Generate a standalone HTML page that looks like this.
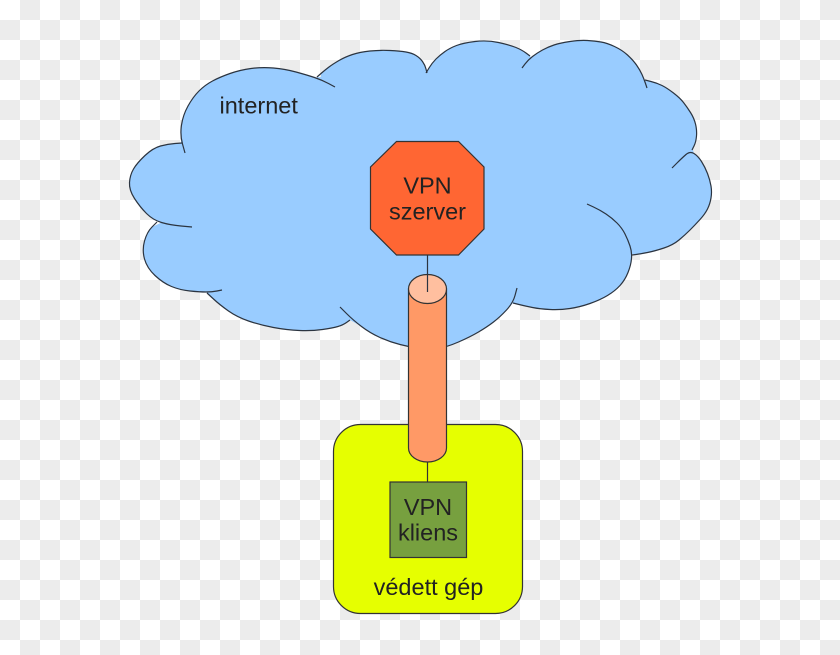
<!DOCTYPE html>
<html>
<head>
<meta charset="utf-8">
<style>
  html, body { margin: 0; padding: 0; }
  body { width: 840px; height: 655px; overflow: hidden; }
  svg { display: block; }
  text { font-family: "Liberation Sans", Arial, sans-serif; font-size: 23.5px; fill: #222; }
</style>
</head>
<body>
<svg width="840" height="655" viewBox="0 0 840 655" xmlns="http://www.w3.org/2000/svg">
  <defs>
    <pattern id="chk" x="0" y="0" width="40" height="40" patternUnits="userSpaceOnUse">
      <rect x="0" y="0" width="40" height="40" fill="#ffffff"/>
      <rect x="20" y="0" width="20" height="20" fill="#ececec"/>
      <rect x="0" y="20" width="20" height="20" fill="#ececec"/>
    </pattern>
  </defs>
  <rect x="0" y="0" width="840" height="655" fill="url(#chk)"/>

  <!-- cloud fill -->
  <path fill="#99ccff" stroke="none" d="
    M161.5,222.5 Q153,220 146.5,213.5 Q140,207 134.5,198.5 Q129,190 129.5,182.5 Q130,175 133.5,169 Q137,163 145,155.5 Q153,148 160.5,146 Q168,144 175,143.5 L181,143
    L181.5,125 Q183,115 188,106 Q193,97 199,91 Q205,85 212.5,81 Q220,77 230,73.5 Q240,70 251,68.5 Q262,67 273.5,68 Q285,69 296,72 Q307,75 314.5,77.5 L321,77
    L321,73.5 Q325,70 329,67 Q333,64 339,60.5 Q345,57 352.5,54.5 Q360,52 370,51 Q380,50 390,50.5 Q400,51 406,52 Q412,53 416,55.5 Q420,58 422.5,61.5 Q425,65 426,69 L427,72
    L429,68 Q432,63 436,59 Q440,55 445,51.5 Q450,48 456.5,45.5 Q463,43 475,41.5 Q487,40 498.5,42.5 Q510,45 516,47.5 Q522,50 526,53 L531,57
    L532.5,56.5 Q537,53 542.5,50 Q548,47 554,45 Q560,43 570,41.5 Q580,40 587.5,40.5 Q595,41 601,42 Q607,43 614.5,46.5 Q622,50 627.5,55 Q633,60 636.5,65 Q640,70 642,74.5 Q644,79 645,81
    L651,81.5 Q657,83 662,85.5 Q667,88 673.5,93 Q680,98 683.5,102.5 Q687,107 690.5,112.5 Q694,118 695.5,124 Q697,130 696.5,136 Q696,142 694,146 L693,150
    L694,153.5 Q698,156 701.5,161.5 Q705,167 707.5,173.5 Q710,180 711,186 Q712,192 711,198 Q710,204 707.5,209 Q705,214 700,219.5 Q695,225 690,230 Q685,235 679,240 Q673,245 664,248 Q655,251 647.5,252.5 Q640,254 636,254.5 L632,254
    L631.5,258.5 Q631,265 628,272.5 Q625,280 620,285.5 Q615,291 607.5,295.5 Q600,300 590,303.5 Q580,307 570,308.5 Q560,310 550,309.5 Q540,309 532.5,307.5 Q525,306 519,304.5 L513,303
    L506.5,310 Q500,317 493.5,322 Q487,327 478.5,332 Q470,337 458.5,342 Q447,347 437.5,348.5 Q428,350 419,348.5 Q410,347 400,344.5 Q390,342 380,337.5 Q370,333 361.5,326.5 L350,320
    L346.5,322.5 Q343,325 338,326.5 Q333,328 322.5,329.5 Q312,331 299.5,330.5 Q287,330 273.5,327.5 Q260,325 248.5,321 Q237,317 228.5,311 Q220,305 213.5,299 L207,293
    L206,292 Q200,292 190,291 Q180,290 171.5,286.5 Q163,283 155,275.5 Q147,268 144.5,259 Q142,250 144.5,241 Q147,232 152,227 Z"/>

  <!-- cloud outline lobes -->
  <g fill="none" stroke="#2b3440" stroke-width="1.2">
    <path d="M192,227 L181,226 Q170,225 161.5,222.5 Q153,220 146.5,213.5 Q140,207 134.5,198.5 Q129,190 129.5,182.5 Q130,175 133.5,169 Q137,163 145,155.5 Q153,148 160.5,146 Q168,144 175,143.5 L182,143"/>
    <path d="M185,153 L182.5,144 Q180,135 181.5,125 Q183,115 188,106 Q193,97 199,91 Q205,85 212.5,81 Q220,77 230,73.5 Q240,70 251,68.5 Q262,67 273.5,68 Q285,69 296,72 Q307,75 314.5,77.5 Q322,80 328.5,83.5 L335,87"/>
    <path d="M317,77 L321,73.5 Q325,70 329,67 Q333,64 339,60.5 Q345,57 352.5,54.5 Q360,52 370,51 Q380,50 390,50.5 Q400,51 406,52 Q412,53 416,55.5 Q420,58 422.5,61.5 Q425,65 426,69 L427,73"/>
    <path d="M426,73 L429,68 Q432,63 436,59 Q440,55 445,51.5 Q450,48 456.5,45.5 Q463,43 475,41.5 Q487,40 498.5,42.5 Q510,45 516,47.5 Q522,50 526,53 L530,56"/>
    <path d="M522,68 L525,64 Q528,60 532.5,56.5 Q537,53 542.5,50 Q548,47 554,45 Q560,43 570,41.5 Q580,40 587.5,40.5 Q595,41 601,42 Q607,43 614.5,46.5 Q622,50 627.5,55 Q633,60 636.5,65 Q640,70 642,74.5 Q644,79 645.5,83.5 L647,88"/>
    <path d="M645,80 L651,81.5 Q657,83 662,85.5 Q667,88 673.5,93 Q680,98 683.5,102.5 Q687,107 690.5,112.5 Q694,118 695.5,124 Q697,130 696.5,136 Q696,142 694,146 L692,150"/>
    <path d="M672,168 L677,163 Q682,158 686,154.5 Q690,151 694,153.5 Q698,156 701.5,161.5 Q705,167 707.5,173.5 Q710,180 711,186 Q712,192 711,198 Q710,204 707.5,209 Q705,214 700,219.5 Q695,225 690,230 Q685,235 679,240 Q673,245 664,248 Q655,251 647.5,252.5 Q640,254 636,254.5 L632,255"/>
    <path d="M587,204 L593.5,207 Q600,210 606,214 Q612,218 617,223 Q622,228 625,234 Q628,240 630,246 Q632,252 631.5,258.5 Q631,265 628,272.5 Q625,280 620,285.5 Q615,291 607.5,295.5 Q600,300 590,303.5 Q580,307 570,308.5 Q560,310 550,309.5 Q540,309 532.5,307.5 Q525,306 519,304.5 L513,303"/>
    <path d="M517,288 L515,295.5 Q513,303 506.5,310 Q500,317 493.5,322 Q487,327 478.5,332 Q470,337 458.5,342 Q447,347 437.5,348.5 Q428,350 419,348.5 Q410,347 400,344.5 Q390,342 380,337.5 Q370,333 361.5,326.5 Q353,320 346.5,313.5 L340,307"/>
    <path d="M207,293 L213.5,299 Q220,305 228.5,311 Q237,317 248.5,321 Q260,325 273.5,327.5 Q287,330 299.5,330.5 Q312,331 322.5,329.5 Q333,328 338,326.5 Q343,325 346.5,322.5 L350,320"/>
    <path d="M157,222 L152,227 Q147,232 144.5,241 Q142,250 144.5,259 Q147,268 155,275.5 Q163,283 171.5,286.5 Q180,290 190,291 Q200,292 206,292 Q212,292 217,291 L222,290"/>
  </g>

  <text x="219.5" y="113.5">internet</text>

  <!-- VPN szerver octagon -->
  <polygon points="396.5,141.5 458.5,141.5 484,167 484,229 458.5,255 396.5,255 370.5,229 370.5,167" fill="#ff6633" stroke="#333" stroke-width="1.2"/>
  <text x="427.5" y="193.5" text-anchor="middle">VPN</text>
  <text x="427.5" y="219.5" text-anchor="middle">szerver</text>

  <!-- protected machine -->
  <rect x="333.5" y="424.5" width="189" height="189" rx="27" ry="27" fill="#e6ff00" stroke="#333" stroke-width="1.2"/>

  <!-- tunnel cylinder -->
  <path d="M408.5,289 L408.5,448 A19,14 0 0 0 446.5,448 L446.5,289 Z" fill="#ff9966" stroke="#333" stroke-width="1.2"/>
  <ellipse cx="427.5" cy="289" rx="19" ry="14.5" fill="#ffbf9f" stroke="#333" stroke-width="1.2"/>

  <!-- connectors -->
  <line x1="427.5" y1="255" x2="427.5" y2="292" stroke="#2b3440" stroke-width="1.2"/>
  <line x1="427.5" y1="462" x2="427.5" y2="482" stroke="#333" stroke-width="1.2"/>

  <!-- VPN kliens -->
  <rect x="390" y="482" width="76.5" height="75.5" fill="#77a03f" stroke="#333" stroke-width="1.2"/>
  <text x="428" y="515" text-anchor="middle">VPN</text>
  <text x="428" y="540.5" text-anchor="middle">kliens</text>

  <text x="428.5" y="595" text-anchor="middle">védett gép</text>
</svg>
</body>
</html>
